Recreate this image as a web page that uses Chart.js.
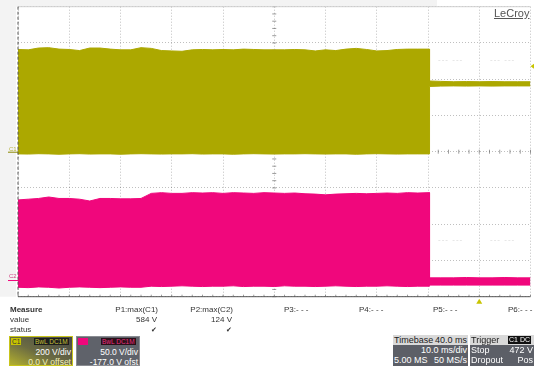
<!DOCTYPE html>
<html>
<head>
<meta charset="utf-8">
<script src="https://cdn.jsdelivr.net/npm/chart.js@4.4.0/dist/chart.umd.min.js"></script>
<style>
  html, body { margin: 0; padding: 0; background: #fff; }
  body { width: 534px; height: 366px; position: relative; overflow: hidden; font-family: "Liberation Sans", Arial, sans-serif; }
  #scope { position: absolute; left: 0; top: 0; }
  .t { position: absolute; font-size: 8px; color: #333; white-space: nowrap; line-height: 10px; }
  .b { font-weight: bold; }
  .box { position: absolute; overflow: hidden; box-sizing: border-box; font-size: 8.5px; line-height: 10px; white-space: nowrap; }
  .box span { position: absolute; }
  .lbl { font-size: 6.5px; line-height: 7px; padding: 0 1px; }
  #lecroy { position: absolute; left: 494px; top: 7px; font-size: 11px; color: #555; text-decoration: underline; }
  .ghost { position: absolute; font-size: 8px; color: #d8d8d8; letter-spacing: 1px; }
</style>
</head>
<body>
<canvas id="scope" width="534" height="366"></canvas>

<div id="lecroy">LeCroy</div>
<div class="ghost" style="left:438px;top:55px">--- ---</div>
<div class="ghost" style="left:490px;top:55px">--- ---</div>
<div class="ghost" style="left:438px;top:235px">--- ---</div>
<div class="ghost" style="left:490px;top:235px">--- ---</div>

<!-- measure table -->
<div class="t b" style="left:10px;top:305px">Measure</div>
<div class="t" style="left:10px;top:315px">value</div>
<div class="t" style="left:10px;top:325px">status</div>
<div class="t" style="right:376px;top:305px">P1:max(C1)</div>
<div class="t" style="right:377px;top:315px">584 V</div>
<div class="t" style="left:151px;top:325px;font-size:7px">✔</div>
<div class="t" style="right:301px;top:305px">P2:max(C2)</div>
<div class="t" style="right:302px;top:315px">124 V</div>
<div class="t" style="left:226px;top:325px;font-size:7px">✔</div>
<div class="t" style="left:284px;top:305px">P3:- - -</div>
<div class="t" style="left:359px;top:305px">P4:- - -</div>
<div class="t" style="left:433px;top:305px">P5:- - -</div>
<div class="t" style="left:508px;top:305px">P6:- - -</div>

<!-- channel boxes -->
<div class="box" style="left:9px;top:336px;width:64px;height:30px;border:1px solid #c8c41a;background:linear-gradient(to top right,#b3b02e 0%,#6b6b42 45%,#45474a 100%)">
  <span class="lbl" style="left:1px;top:1px;background:#c8c400;color:#333">C1</span>
  <span class="lbl" style="left:24px;top:1px;background:#1d1d1d;color:#c8c43a">BwL DC1M</span>
  <span style="right:1px;top:10px;color:#fff">200 V/div</span>
  <span style="right:1px;top:20px;color:#f2f0b8">0.0 V offset</span>
</div>
<div class="box" style="left:76px;top:336px;width:64px;height:30px;border:1px solid #8a8c92;background:#5f626a">
  <span class="lbl" style="left:1px;top:1px;background:#f0077c;color:#f0077c">C2</span>
  <span class="lbl" style="left:24px;top:1px;background:#2a1019;color:#e8307f">BwL DC1M</span>
  <span style="right:1px;top:10px;color:#fff">50.0 V/div</span>
  <span style="right:1px;top:20px;color:#fff">-177.0 V ofst</span>
</div>
<div class="box" style="left:393px;top:335px;width:75px;height:31px;background:#5c5f67;color:#fff;font-size:9px">
  <span style="left:0;top:0;width:75px;height:10px;background:#d9d9d9"></span>
  <span style="left:1px;top:0;color:#222">Timebase</span>
  <span style="right:1px;top:0;color:#222">40.0 ms</span>
  <span style="right:1px;top:10px">10.0 ms/div</span>
  <span style="left:1px;top:20px">5.00 MS</span>
  <span style="right:1px;top:20px">50 MS/s</span>
</div>
<div class="box" style="left:470px;top:335px;width:64px;height:31px;background:#5c5f67;color:#fff;font-size:9px">
  <span style="left:0;top:0;width:64px;height:10px;background:#d9d9d9"></span>
  <span style="left:1px;top:0;color:#222">Trigger</span>
  <span class="lbl" style="left:38px;top:1px;background:#111;color:#fff;font-size:7px;line-height:8px">C1 DC</span>
  <span style="left:1px;top:10px">Stop</span>
  <span style="right:1px;top:10px">472 V</span>
  <span style="left:1px;top:20px">Dropout</span>
  <span style="right:1px;top:20px">Pos</span>
</div>

<script>
// time axis in ms (10 ms/div, 10 div). 80.3 appears twice: the sharp drop
const timeMs = [0, 2, 4, 6, 8, 10, 12, 14, 16, 18, 20, 22, 24, 26, 28, 30, 32, 34, 36, 38,
  40, 42, 44, 46, 48, 50, 52, 54, 56, 58, 60, 62, 64, 66, 68, 70, 72, 74, 76, 78, 80,
  80.3, 80.3, 82.5, 85, 87.5, 90, 92.5, 95, 97.5, 100];

// C1 (yellow) envelope, volts, 200 V/div, 0 V offset
const c1High = [564, 562, 572, 574, 566, 564, 558, 572, 572, 566, 562, 562, 574, 570, 558, 556, 554, 562, 564, 562,
  564, 562, 566, 564, 562, 562, 562, 564, 562, 556, 562, 558, 566, 570, 564, 556, 558, 564, 566, 566, 566,
  566, 390, 388, 386, 387, 386, 387, 386, 386, 386];
const c1Low = [-12, -13, -11, -12, -14, -12, -11, -13, -12, -12, -14, -12, -11, -12, -13, -12, -12, -11, -13, -12,
  -12, -14, -12, -11, -12, -13, -12, -12, -11, -12, -13, -12, -12, -14, -12, -11, -12, -13, -12, -12, -12,
  -12, 360, 362, 363, 362, 363, 362, 363, 363, 363];

// C2 (magenta) envelope, volts, 50 V/div, -177 V offset
const c2High = [110.5, 111.5, 112.5, 114.5, 112.5, 112.5, 111.5, 109, 112.5, 112.5, 112, 112, 112.5, 119.5, 120.5, 119.5, 119.5, 120.5, 120, 120.5,
  119.5, 120.5, 120, 119.5, 120.5, 120, 119.5, 120, 119, 118.5, 117.5, 118.5, 119, 119.5, 119, 119.5, 120, 119.5, 120.5, 120, 120.5,
  120.5, 3, 3, 3, 3.5, 3, 3, 3.5, 3, 3];
const c2Low = [-10, -10.5, -9.5, -10, -11, -10, -9.5, -10, -10.5, -10, -9.5, -10, -10, -8.5, -9, -8.5, -8, -8.5, -9, -8.5,
  -8.5, -8, -9, -8.5, -8.5, -9, -8, -8.5, -8.5, -9, -8.5, -8, -8.5, -9, -8.5, -8.5, -8, -8.5, -9, -8.5, -8.5,
  -8.5, -7, -7, -7, -7, -7, -7, -7, -7, -7];

const c1Range = [-800, 800];
const c2Range = [-23, 377];
const triggerMs = 90;
const triggerLevel = 472;

const YELLOW = '#aca800';
const MAGENTA = '#f0077c';

function pts(vals) {
  return timeMs.map((t, i) => ({ x: t, y: vals[i] }));
}

const scopeDecor = {
  id: 'scopeDecor',
  beforeDraw(chart) {
    const ctx = chart.ctx, a = chart.chartArea;
    ctx.save();
    ctx.fillStyle = '#f3f3f3';
    ctx.fillRect(0, 0, a.left - 2, a.bottom);
    ctx.fillRect(0, 0, 437, a.top);
    ctx.restore();
  },
  beforeDatasetsDraw(chart) {
    const ctx = chart.ctx, a = chart.chartArea;
    const x = chart.scales.x, y = chart.scales.y;
    ctx.save();
    // minor ticks on the centre cross, hidden under the traces
    const cx = x.getPixelForValue(50), cy = y.getPixelForValue(0);
    ctx.strokeStyle = 'rgba(90,90,90,0.6)';
    ctx.lineWidth = 1;
    ctx.beginPath();
    for (let v = c1Range[0]; v <= c1Range[1]; v += 40) {
      const py = y.getPixelForValue(v);
      ctx.moveTo(cx - 2, py); ctx.lineTo(cx + 2, py);
    }
    for (let t = 0; t <= 100; t += 2) {
      const px = x.getPixelForValue(t);
      ctx.moveTo(px, cy - 2); ctx.lineTo(px, cy + 2);
      ctx.moveTo(px, a.bottom); ctx.lineTo(px, a.bottom - 2);
    }
    ctx.stroke();
    ctx.restore();
  },
  afterDatasetsDraw(chart) {
    const ctx = chart.ctx, a = chart.chartArea;
    const x = chart.scales.x, y = chart.scales.y, y2 = chart.scales.y2;
    ctx.save();
    // frame
    ctx.strokeStyle = '#d0d0d0';
    ctx.lineWidth = 1;
    ctx.beginPath(); ctx.moveTo(a.left, a.top); ctx.lineTo(a.right, a.top); ctx.stroke();
    ctx.strokeStyle = '#555';
    ctx.beginPath(); ctx.moveTo(a.left, a.bottom); ctx.lineTo(a.right, a.bottom); ctx.stroke();
    ctx.setLineDash([3, 2]);
    ctx.beginPath(); ctx.moveTo(a.left, a.top); ctx.lineTo(a.left, a.bottom); ctx.stroke();
    ctx.setLineDash([]);
    // channel ground markers
    ctx.font = '6px "Liberation Sans", Arial, sans-serif';
    ctx.textBaseline = 'alphabetic';
    const g1 = y.getPixelForValue(0), g2 = y2.getPixelForValue(0);
    ctx.fillStyle = '#b8b440';
    ctx.fillText('C1', 9, g1 - 1);
    ctx.strokeStyle = '#8a8700';
    ctx.beginPath(); ctx.moveTo(8, g1 + 0.5); ctx.lineTo(a.left, g1 + 0.5); ctx.stroke();
    ctx.fillStyle = '#d04080';
    ctx.fillText('C2', 9, g2 - 2);
    ctx.strokeStyle = MAGENTA;
    ctx.beginPath(); ctx.moveTo(8, g2 + 0.5); ctx.lineTo(a.left, g2 + 0.5); ctx.stroke();
    // trigger position and level
    ctx.fillStyle = '#c8c400';
    const tx = x.getPixelForValue(triggerMs);
    ctx.beginPath(); ctx.moveTo(tx, a.bottom + 2); ctx.lineTo(tx - 3, a.bottom + 7); ctx.lineTo(tx + 3, a.bottom + 7); ctx.closePath(); ctx.fill();
    const ty = y.getPixelForValue(triggerLevel);
    ctx.beginPath(); ctx.moveTo(a.right, ty); ctx.lineTo(534, ty - 2.5); ctx.lineTo(534, ty + 2.5); ctx.closePath(); ctx.fill();
    ctx.restore();
  }
};

new Chart(document.getElementById('scope'), {
  type: 'line',
  data: {
    datasets: [
      { data: pts(c1High), yAxisID: 'y', borderColor: YELLOW, backgroundColor: YELLOW, borderWidth: 1, pointRadius: 0, fill: false },
      { data: pts(c1Low), yAxisID: 'y', borderColor: YELLOW, backgroundColor: YELLOW, borderWidth: 1, pointRadius: 0, fill: '-1' },
      { data: pts(c2High), yAxisID: 'y2', borderColor: MAGENTA, backgroundColor: MAGENTA, borderWidth: 1, pointRadius: 0, fill: false },
      { data: pts(c2Low), yAxisID: 'y2', borderColor: MAGENTA, backgroundColor: MAGENTA, borderWidth: 1, pointRadius: 0, fill: '-1' }
    ]
  },
  options: {
    responsive: false,
    animation: false,
    events: [],
    layout: { padding: { left: 18, top: 6.7, right: 3.5, bottom: 69.3 } },
    plugins: { legend: { display: false }, tooltip: { enabled: false } },
    elements: { line: { tension: 0 } },
    scales: {
      x: {
        type: 'linear', min: 0, max: 100,
        ticks: { display: false, stepSize: 10 },
        grid: { color: 'rgba(0,0,0,0.25)', drawTicks: false },
        border: { display: false, dash: [1, 2] }
      },
      y: {
        min: c1Range[0], max: c1Range[1],
        ticks: { display: false, stepSize: 200 },
        grid: { color: 'rgba(0,0,0,0.25)', drawTicks: false },
        border: { display: false, dash: [1, 2] }
      },
      y2: { display: false, min: c2Range[0], max: c2Range[1] }
    }
  },
  plugins: [scopeDecor]
});
</script>
</body>
</html>
